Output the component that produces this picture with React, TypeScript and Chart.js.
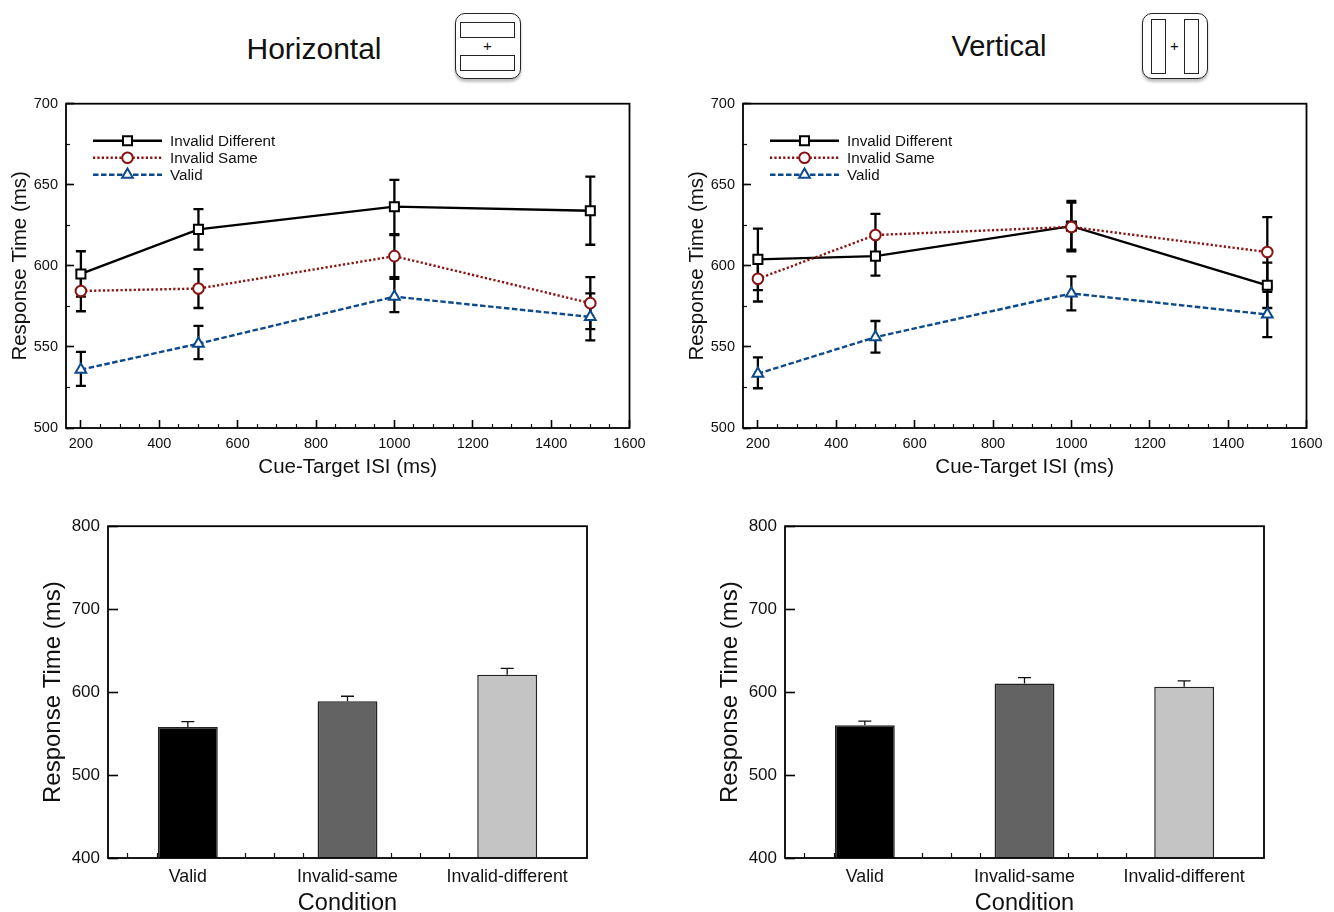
import React, { useEffect, useRef } from "react";
import { Chart, registerables } from "chart.js";
import { drawPoint } from "chart.js/helpers";

Chart.register(...registerables);

const FONT = '"Liberation Sans", Arial, sans-serif';

const isi = [200, 500, 1000, 1500];
const xMajorTicks = [200, 400, 600, 800, 1000, 1200, 1400, 1600];
const xMinorTicks = [250, 300, 350, 450, 500, 550, 650, 700, 750, 850, 900, 950, 1050, 1100, 1150, 1250, 1300, 1350, 1450, 1500, 1550];
const conditions = ["Valid", "Invalid-same", "Invalid-different"];

const hDifferent = [595, 622.5, 636.5, 634];
const hDifferentHi = [609, 635, 653, 655];
const hDifferentLo = [581, 610, 619.5, 613];
const hSame = [584.5, 586, 606, 577];
const hSameHi = [597, 598, 619, 593];
const hSameLo = [572, 574, 593, 561];
const hValid = [536, 552, 581, 568.5];
const hValidHi = [547, 563, 592, 583];
const hValidLo = [526, 542.5, 571.5, 554];

const vDifferent = [604, 606, 624.5, 588];
const vDifferentHi = [623, 618, 639, 602];
const vDifferentLo = [585, 594, 610, 574];
const vSame = [592, 619, 624, 608.5];
const vSameHi = [606, 632, 640, 630];
const vSameLo = [578, 606, 609, 587];
const vValid = [533.5, 556, 583, 570];
const vValidHi = [543.5, 566, 593.5, 584];
const vValidLo = [524.5, 546.5, 572.5, 556];

const hBars = [558, 589, 621];
const hBarsHi = [564.5, 595, 628.5];
const vBars = [560, 610.5, 606.5];
const vBarsHi = [565, 617.5, 613.5];
const barColors = ["#000000", "#636363", "#c4c4c4"];
const barMinorTicks = [0.1, 0.3, 0.5, 0.7, 0.9, 1.1, 1.3, 1.5, 1.7, 1.9, 2.1, 2.3];

const BLACK = "#000000";
const RED = "#8a1212";
const BLUE = "#0d4a8c";

const fixWidth = (w: number) => (s: any) => { s.width = w; };
const fixHeight = (h: number) => (s: any) => { s.height = h; };
const useTicks = (values: number[]) => (s: any) => { s.ticks = values.map((value) => ({ value })); };

const framePlugin = {
  id: "frame",
  afterDatasetsDraw(chart: any) {
    const { ctx, chartArea: a } = chart;
    ctx.save();
    ctx.strokeStyle = "#000";
    ctx.lineWidth = 1.8;
    ctx.strokeRect(a.left, a.top, a.right - a.left, a.bottom - a.top);
    ctx.restore();
  },
};

const errorBarPlugin = {
  id: "errorBars",
  beforeDatasetsDraw(chart: any) {
    const { ctx, scales } = chart;
    chart.data.datasets.forEach((ds: any) => {
      ctx.save();
      ctx.strokeStyle = "#000";
      ctx.lineWidth = 2.3;
      ds.errHi.forEach((hi: number, i: number) => {
        const x = scales.x.getPixelForValue(isi[i]);
        const t = scales.y.getPixelForValue(hi);
        const b = scales.y.getPixelForValue(ds.errLo[i]);
        ctx.beginPath();
        ctx.moveTo(x, t); ctx.lineTo(x, b);
        ctx.moveTo(x - 5, t); ctx.lineTo(x + 5, t);
        ctx.moveTo(x - 5, b); ctx.lineTo(x + 5, b);
        ctx.stroke();
      });
      ctx.restore();
    });
  },
};

const barErrorPlugin = {
  id: "barErrors",
  beforeDatasetsDraw(chart: any) {
    const { ctx, scales } = chart;
    const ds: any = chart.data.datasets[0];
    ctx.save();
    ctx.strokeStyle = "#111";
    ctx.lineWidth = 1.3;
    ds.errHi.forEach((hi: number, i: number) => {
      const x = scales.x.getPixelForValue(i);
      const t = scales.y.getPixelForValue(hi);
      const b = scales.y.getPixelForValue(ds.data[i]);
      ctx.beginPath();
      ctx.moveTo(x, t); ctx.lineTo(x, b);
      ctx.moveTo(x - 6.5, t); ctx.lineTo(x + 6.5, t);
      ctx.stroke();
    });
    ctx.restore();
  },
};

const insideLegendPlugin = {
  id: "insideLegend",
  afterDatasetsDraw(chart: any) {
    const { ctx, chartArea: a } = chart;
    const lx = a.left + 27;
    const rows = [a.top + 37, a.top + 54, a.top + 71];
    chart.data.datasets.forEach((ds: any, i: number) => {
      const y = rows[i];
      ctx.save();
      ctx.strokeStyle = ds.borderColor;
      ctx.lineWidth = ds.borderWidth;
      ctx.setLineDash(ds.borderDash || []);
      ctx.beginPath();
      ctx.moveTo(lx, y); ctx.lineTo(lx + 69, y);
      ctx.stroke();
      ctx.setLineDash([]);
      ctx.fillStyle = "#fff";
      ctx.strokeStyle = ds.pointBorderColor;
      ctx.lineWidth = ds.pointBorderWidth;
      drawPoint(ctx, { pointStyle: ds.pointStyle, rotation: 0, radius: ds.pointRadius, borderWidth: ds.pointBorderWidth }, lx + 34.5, y);
      ctx.fillStyle = "#111";
      ctx.font = `15.2px ${FONT}`;
      ctx.textBaseline = "middle";
      ctx.textAlign = "left";
      ctx.fillText(ds.label, lx + 77, y + 1);
      ctx.restore();
    });
  },
};

const lineDs = (label: string, data: number[], hi: number[], lo: number[], color: string, dash: number[], style: string, radius: number, order: number) => ({
  type: "line",
  label,
  xAxisID: "x",
  yAxisID: "y",
  data: data.map((y, i) => ({ x: isi[i], y })),
  errHi: hi,
  errLo: lo,
  borderColor: color,
  borderWidth: 2.4,
  borderDash: dash,
  pointStyle: style,
  pointRadius: radius,
  pointBackgroundColor: "#ffffff",
  pointBorderColor: color,
  pointBorderWidth: 2,
  tension: 0,
  order,
});

function lineConfig(diff: number[], diffHi: number[], diffLo: number[], same: number[], sameHi: number[], sameLo: number[], valid: number[], validHi: number[], validLo: number[]): any {
  return {
    type: "line",
    data: {
      datasets: [
        lineDs("Invalid Different", diff, diffHi, diffLo, BLACK, [], "rect", 6.4, 3),
        lineDs("Invalid Same", same, sameHi, sameLo, RED, [2.2, 2.2], "circle", 5.3, 2),
        lineDs("Valid", valid, validHi, validLo, BLUE, [5.5, 2.5], "triangle", 6.2, 1),
      ],
    },
    plugins: [errorBarPlugin, framePlugin, insideLegendPlugin],
    options: {
      responsive: false,
      animation: false,
      layout: { autoPadding: false, padding: { left: 0, top: 13, right: 37.5, bottom: 0 } },
      plugins: { legend: { display: false }, tooltip: { enabled: false }, title: { display: false } },
      scales: {
        x: {
          type: "linear", position: "bottom", weight: 1, min: 162, max: 1600,
          afterFit: fixHeight(62),
          afterBuildTicks: useTicks(xMajorTicks),
          border: { display: false },
          ticks: { autoSkip: false, maxRotation: 0, padding: 15, color: "#111", font: { family: FONT, size: 14.5 }, callback: (v: number) => String(v) },
          grid: { drawOnChartArea: false, tickLength: -8, tickColor: "#000", tickWidth: 1.6 },
          title: { display: true, text: "Cue-Target ISI (ms)", color: "#111", font: { family: FONT, size: 20.5 }, padding: { top: 0, bottom: 10 } },
        },
        xMinor: {
          type: "linear", position: "bottom", weight: 0, min: 162, max: 1600,
          afterFit: fixHeight(0),
          afterBuildTicks: useTicks(xMinorTicks),
          border: { display: false },
          ticks: { display: false, autoSkip: false },
          grid: { drawOnChartArea: false, tickLength: -4, tickColor: "#111", tickWidth: 1.2 },
        },
        y: {
          type: "linear", position: "left", weight: 1, min: 500, max: 700,
          afterFit: fixWidth(66),
          border: { display: false },
          ticks: { stepSize: 50, padding: 16, color: "#111", font: { family: FONT, size: 14.5 } },
          grid: { drawOnChartArea: false, tickLength: -8, tickColor: "#000", tickWidth: 1.6 },
          title: { display: true, text: "Response Time (ms)", color: "#111", font: { family: FONT, size: 20.5 }, padding: { top: 8, bottom: 0 } },
        },
        yMinor: {
          type: "linear", position: "left", weight: 0, min: 500, max: 700,
          afterFit: fixWidth(0),
          border: { display: false },
          ticks: { stepSize: 25, display: false },
          grid: { drawOnChartArea: false, tickLength: -4, tickColor: "#111", tickWidth: 1.2 },
        },
      },
    },
  };
}

function barConfig(values: number[], hi: number[]): any {
  return {
    type: "bar",
    data: {
      labels: conditions,
      datasets: [{
        label: "Response Time",
        xAxisID: "x",
        yAxisID: "y",
        data: values,
        errHi: hi,
        backgroundColor: barColors,
        borderColor: "#222222",
        borderWidth: 1.5,
        barPercentage: 0.375,
        categoryPercentage: 1,
      }],
    },
    plugins: [barErrorPlugin, framePlugin],
    options: {
      responsive: false,
      animation: false,
      layout: { autoPadding: false, padding: { left: 0, top: 16, right: 80, bottom: 0 } },
      plugins: { legend: { display: false }, tooltip: { enabled: false }, title: { display: false } },
      scales: {
        x: {
          type: "category", position: "bottom", weight: 1,
          afterFit: fixHeight(72),
          border: { display: false },
          ticks: { padding: 0, maxRotation: 0, autoSkip: false, color: "#111", font: { family: FONT, size: 17.8 } },
          grid: { display: false },
          title: { display: true, text: "Condition", color: "#111", font: { family: FONT, size: 23.5 }, padding: { top: 0, bottom: 12 } },
        },
        xMinor: {
          type: "linear", position: "bottom", weight: 0, min: 0, max: 3,
          afterFit: fixHeight(0),
          afterBuildTicks: useTicks(barMinorTicks),
          border: { display: false },
          ticks: { display: false },
          grid: { drawOnChartArea: false, tickLength: -5, tickColor: "#111", tickWidth: 1.2 },
        },
        y: {
          type: "linear", position: "left", weight: 1, min: 400, max: 800,
          afterFit: fixWidth(108),
          border: { display: false },
          ticks: { stepSize: 100, padding: 18, color: "#111", font: { family: FONT, size: 17 } },
          grid: { drawOnChartArea: false, tickLength: -10, tickColor: "#000", tickWidth: 1.6 },
          title: { display: true, text: "Response Time (ms)", color: "#111", font: { family: FONT, size: 24 }, padding: { top: 39, bottom: 0 } },
        },
      },
    },
  };
}

function Panel({ left, top, width, height, config }: { left: number; top: number; width: number; height: number; config: any }) {
  const ref = useRef<HTMLCanvasElement>(null);
  useEffect(() => {
    const chart = new Chart(ref.current as HTMLCanvasElement, config);
    return () => chart.destroy();
  }, []);
  return <canvas ref={ref} width={width} height={height} style={{ position: "absolute", left, top, width, height }} />;
}

const box = (left: number, top: number, width: number, height: number): React.CSSProperties => ({
  position: "absolute", left, top, width, height, boxSizing: "border-box", border: "1px solid #222", background: "#fff",
});

function Icon({ left, rects }: { left: number; rects: number[][] }) {
  return (
    <div style={{ position: "absolute", left, top: 13, width: 66, height: 66, boxSizing: "border-box", border: "1.5px solid #222", borderRadius: 10, background: "#fff", boxShadow: "0 3px 3px rgba(0,0,0,0.25)" }}>
      {rects.map((r, i) => <div key={i} style={box(r[0], r[1], r[2], r[3])} />)}
      <div style={{ position: "absolute", left: 0, width: 63, top: 22, textAlign: "center", font: `15px ${FONT}`, color: "#111", lineHeight: "20px" }}>+</div>
    </div>
  );
}

function Title({ text, cx, cy, size }: { text: string; cx: number; cy: number; size: number }) {
  return <div style={{ position: "absolute", left: cx - 150, width: 300, top: cy - 20, height: 40, textAlign: "center", font: `${size}px/40px ${FONT}`, color: "#111" }}>{text}</div>;
}

export default function App() {
  return (
    <div style={{ position: "absolute", left: 0, top: 0, width: 1334, height: 912, overflow: "hidden", background: "#fff" }}>
      <Title text="Horizontal" cx={314} cy={49} size={30} />
      <Title text="Vertical" cx={999} cy={46} size={29} />
      <Icon left={455} rects={[[4, 8, 55, 16], [4, 41, 55, 16]]} />
      <Icon left={1142} rects={[[8, 5, 15, 55], [41, 5, 15, 55]]} />
      <Panel left={0} top={79} width={667} height={411} config={lineConfig(hDifferent, hDifferentHi, hDifferentLo, hSame, hSameHi, hSameLo, hValid, hValidHi, hValidLo)} />
      <Panel left={677} top={79} width={667} height={411} config={lineConfig(vDifferent, vDifferentHi, vDifferentLo, vSame, vSameHi, vSameLo, vValid, vValidHi, vValidLo)} />
      <Panel left={0} top={498} width={667} height={432} config={barConfig(hBars, hBarsHi)} />
      <Panel left={677} top={498} width={667} height={432} config={barConfig(vBars, vBarsHi)} />
    </div>
  );
}
